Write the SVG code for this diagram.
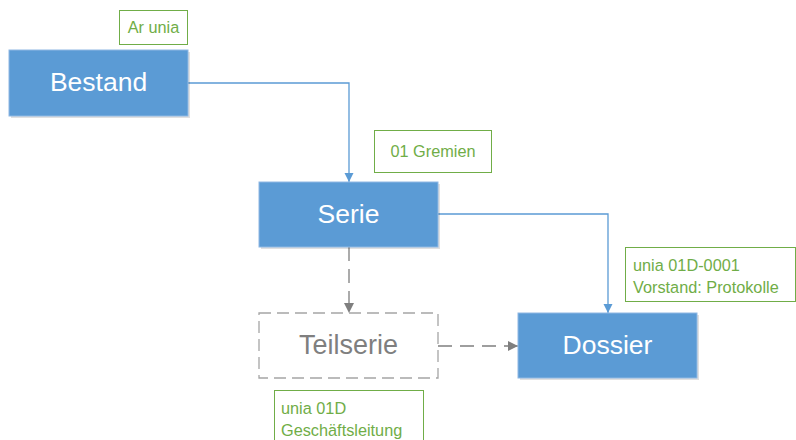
<svg xmlns="http://www.w3.org/2000/svg" width="796" height="440" viewBox="0 0 796 440">
  <style>
    .box { fill: #5B9BD5; stroke: #8FB8E3; stroke-width: 1; }
    .shadow { fill: #000; opacity: 0.12; }
    .title { font-family: "Liberation Sans", Arial, sans-serif; font-size: 26.5px; fill: #FFFFFF; text-anchor: middle; dominant-baseline: central; }
    .ghost { fill: #FFFFFF; stroke: #A5A5A5; stroke-width: 1.3; stroke-dasharray: 12 6; }
    .ghost-title { font-family: "Liberation Sans", Arial, sans-serif; font-size: 27px; fill: #7F7F7F; text-anchor: middle; dominant-baseline: central; }
    .tag { fill: #FFFFFF; stroke: #70AD47; stroke-width: 1; }
    .tag-text { font-family: "Liberation Sans", Arial, sans-serif; font-size: 16.3px; fill: #70AD47; }
    .link { fill: none; stroke: #5B9BD5; stroke-width: 1.3; }
    .link-dash { fill: none; stroke: #7F7F7F; stroke-width: 1.3; stroke-dasharray: 14 8; }
  </style>
  <defs>
    <marker id="arrow-blue" viewBox="0 0 10 10" refX="10" refY="5" markerWidth="9" markerHeight="10" markerUnits="userSpaceOnUse" orient="auto">
      <path d="M0,0 L10,5 L0,10 Z" fill="#5B9BD5"/>
    </marker>
    <marker id="arrow-gray" viewBox="0 0 10 10" refX="10" refY="5" markerWidth="10" markerHeight="10" markerUnits="userSpaceOnUse" orient="auto">
      <path d="M0,0 L10,5 L0,10 Z" fill="#7F7F7F"/>
    </marker>
  </defs>

  <rect width="796" height="440" fill="#FFFFFF"/>

  <g id="connectors">
    <path class="link" d="M188,83 H349 V182" marker-end="url(#arrow-blue)"/>
    <path class="link" d="M438,214 H608 V313" marker-end="url(#arrow-blue)"/>
    <path class="link-dash" d="M349,247 V313" marker-end="url(#arrow-gray)"/>
    <path class="link-dash" d="M438,346 H518" marker-end="url(#arrow-gray)"/>
  </g>

  <g id="bestand">
    <rect class="shadow" x="11" y="52" width="179" height="66"/>
    <rect class="box" x="9" y="50" width="179" height="66"/>
    <text class="title" x="98.5" y="82">Bestand</text>
  </g>

  <g id="serie">
    <rect class="shadow" x="261" y="184" width="179" height="65"/>
    <rect class="box" x="259" y="182" width="179" height="65"/>
    <text class="title" x="348.5" y="214">Serie</text>
  </g>

  <g id="teilserie">
    <rect class="ghost" x="259" y="313" width="179" height="65"/>
    <text class="ghost-title" x="348.5" y="345">Teilserie</text>
  </g>

  <g id="dossier">
    <rect class="shadow" x="520" y="315" width="179" height="65"/>
    <rect class="box" x="518" y="313" width="179" height="65"/>
    <text class="title" x="607.5" y="345">Dossier</text>
  </g>

  <g id="tag-bestand">
    <rect class="tag" x="119.5" y="10.5" width="68" height="34"/>
    <text class="tag-text" x="153.5" y="33" text-anchor="middle">Ar unia</text>
  </g>

  <g id="tag-serie">
    <rect class="tag" x="374.5" y="130.5" width="117" height="42"/>
    <text class="tag-text" x="433" y="157" text-anchor="middle">01 Gremien</text>
  </g>

  <g id="tag-dossier">
    <rect class="tag" x="625.5" y="247.5" width="170" height="54"/>
    <text class="tag-text" x="633" y="271">unia 01D-0001</text>
    <text class="tag-text" x="633" y="293">Vorstand: Protokolle</text>
  </g>

  <g id="tag-teilserie">
    <rect class="tag" x="274.5" y="390.5" width="149" height="60"/>
    <text class="tag-text" x="281" y="414">unia 01D</text>
    <text class="tag-text" x="281" y="436">Geschäftsleitung</text>
  </g>
</svg>
